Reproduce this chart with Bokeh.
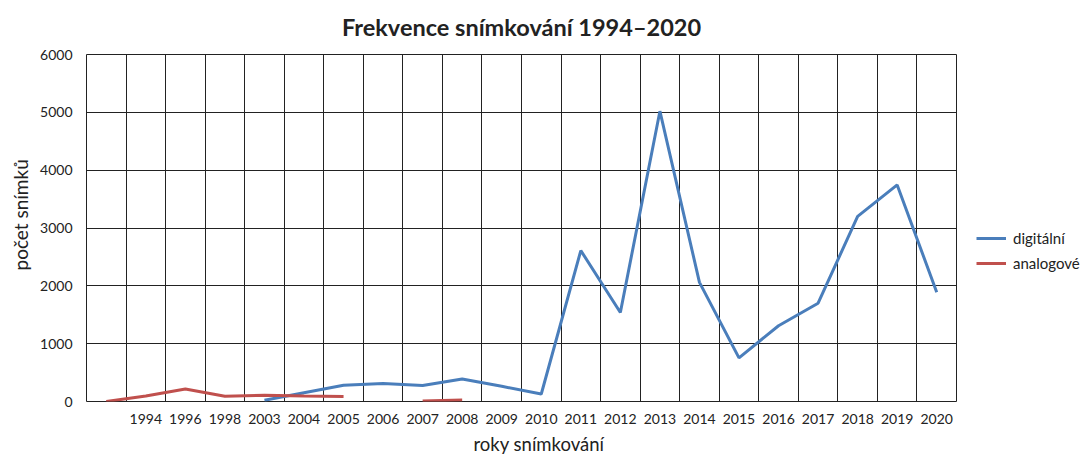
import math
from bokeh.plotting import figure
from bokeh.models import Range1d, FixedTicker, Grid, Legend, LegendItem, ColumnDataSource, Title
from bokeh.embed import file_html
from bokeh.resources import INLINE

categories = ["", "1994", "1996", "1998", "2003", "2004", "2005", "2006", "2007", "2008",
              "2009", "2010", "2011", "2012", "2013", "2014", "2015", "2016", "2017",
              "2018", "2019", "2020"]
nan = float("nan")
digital = [nan, nan, nan, nan, 20, 150, 280, 310, 275, 390, 262, 130, 2610, 1540, 5020,
           2060, 755, 1310, 1700, 3200, 3745, 1890]
analog = [0, 95, 215, 90, 108, 95, 85, nan, 8, 25, nan, nan, nan, nan, nan, nan, nan,
          nan, nan, nan, nan, nan]
y_ticks = [0, 1000, 2000, 3000, 4000, 5000, 6000]

FONT = "Lato"
TXT = "#222222"

xs = [i + 0.5 for i in range(len(categories))]
src = ColumnDataSource(dict(x=xs, digital=digital, analog=analog))

p = figure(frame_width=870, frame_height=347, output_backend="svg", toolbar_location=None,
           x_range=Range1d(0, len(categories)), y_range=Range1d(0, 6000),
           min_border_left=79, min_border_right=116, min_border_top=54, min_border_bottom=55)

p.title.text = "Frekvence snímkování 1994–2020"
p.title.align = "center"
p.title.vertical_align = "top"
p.title.text_font = FONT
p.title.text_font_style = "bold"
p.title.text_font_size = "23.5px"
p.title.text_color = TXT
p.title.standoff = 24

p.outline_line_color = TXT
p.outline_line_width = 1

# axes
p.xaxis.ticker = FixedTicker(ticks=xs)
p.xaxis.major_label_overrides = {x: c for x, c in zip(xs, categories)}
p.yaxis.ticker = FixedTicker(ticks=y_ticks)
for ax in (p.xaxis[0], p.yaxis[0]):
    ax.axis_line_color = None
    ax.major_tick_line_color = None
    ax.minor_tick_line_color = None
    ax.major_label_text_font = FONT
    ax.major_label_text_font_size = "14px"
    ax.major_label_text_color = TXT
p.xaxis.major_label_standoff = 6
p.yaxis.major_label_standoff = 8

# axis titles (offset like in the reference)
xlab = Title(text="roky snímkování", align="left", offset=387, standoff=8,
             text_font=FONT, text_font_size="18.5px", text_font_style="normal", text_color=TXT)
p.add_layout(xlab, "below")
ylab = Title(text="počet snímků", align="left", offset=131, standoff=12,
             text_font=FONT, text_font_size="19px", text_font_style="normal", text_color=TXT)
p.add_layout(ylab, "left")

# grids: vertical at category boundaries, horizontal at y ticks
p.xgrid.visible = False
p.ygrid.grid_line_color = TXT
p.ygrid.grid_line_alpha = 1
vgrid = Grid(dimension=0, ticker=FixedTicker(ticks=list(range(len(categories) + 1))),
             grid_line_color=TXT)
p.add_layout(vgrid)

r1 = p.line("x", "digital", source=src, line_color="#4A7EBB", line_width=3)
r2 = p.line("x", "analog", source=src, line_color="#C0504D", line_width=3)

legend = Legend(items=[LegendItem(label="digitální", renderers=[r1]),
                       LegendItem(label="analogové", renderers=[r2])],
                location=(20, 128), orientation="vertical",
                label_text_font=FONT, label_text_font_size="15px", label_text_color=TXT,
                glyph_width=30, glyph_height=20, label_standoff=7, spacing=5,
                border_line_color=None, background_fill_alpha=0, padding=0, margin=0)
p.add_layout(legend, "right")

open("out.html", "w").write(file_html(p, INLINE))
